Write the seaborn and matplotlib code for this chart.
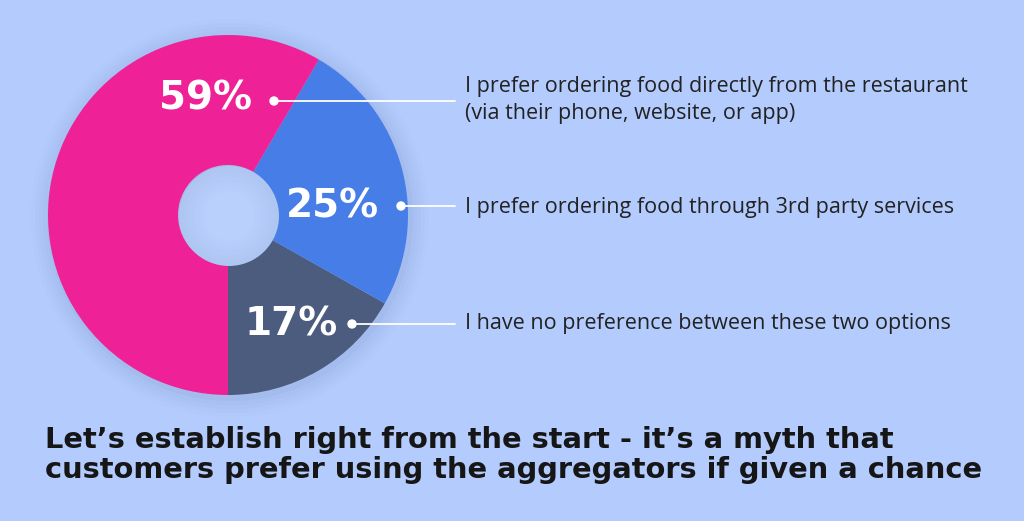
import matplotlib
matplotlib.use("Agg")
import matplotlib.pyplot as plt
import seaborn as sns
from matplotlib.patches import Circle

# ---- data ----
categories = [
    "I have no preference between these two options",
    "I prefer ordering food through 3rd party services",
    "I prefer ordering food directly from the restaurant\n(via their phone, website, or app)",
]
values = [17, 25, 59]
pct_labels = ["17%", "25%", "59%"]
title_lines = [
    "Let\u2019s establish right from the start - it\u2019s a myth that",
    "customers prefer using the aggregators if given a chance",
]

BG = "#B3CBFD"
colors = ["#4B5C7E", "#477DE6", "#EE2296"]

sns.set_theme(style="white")
plt.rcParams["font.family"] = ["DejaVu Sans"]

W, H = 1024, 521
fig = plt.figure(figsize=(W / 100, H / 100), dpi=100, facecolor=BG)
ax = fig.add_axes([0, 0, 1, 1])
ax.set_facecolor(BG)

def Y(y):
    return H - y

cx, cy, R, r_in = 228, Y(215), 180, 50

# soft shadow glow
for i, a in enumerate([0.03, 0.025, 0.02, 0.015, 0.01]):
    ax.add_patch(Circle((cx + 2, cy - 3), R + 3 + i * 4, color="#30457a", alpha=a, lw=0, zorder=1))

ax.pie(values, colors=colors, startangle=-90, counterclock=True,
       center=(cx, cy), radius=R, frame=True,
       wedgeprops=dict(width=R - r_in, linewidth=0, zorder=2))
ax.set_xlim(0, W)
ax.set_ylim(0, H)
ax.set_aspect("equal")
ax.axis("off")

# inner hole soft shading
shades = ["#AFC6F2", "#B1C8F5", "#B3CAF8", "#B5CCFA", "#B7CEFC", "#B9D0FD"]
for i, c in enumerate(shades):
    ax.add_patch(Circle((cx + 1, cy - 1), r_in - i * 5, color=c, lw=0, zorder=3))

# percentage labels with connector
pct_pos = [(245, 324), (286, 207), (159, 98)]
dots = [(352, 324), (401, 206), (274, 101)]
label_pos = [(465, 324), (465, 207), (465, 100)]
for pl, (tx, ty), (dx, dy), (lx, ly), cat in zip(pct_labels, pct_pos, dots, label_pos, categories):
    ax.text(tx, Y(ty), pl, color="white", fontsize=28, fontweight="heavy",
            ha="left", va="center", zorder=5, family=["DejaVu Sans"])
    ax.plot([dx, 455], [Y(dy), Y(dy)], color="white", lw=1.3, zorder=5)
    ax.add_patch(Circle((dx, Y(dy)), 4, color="white", zorder=6))
    ax.text(lx, Y(ly), cat, color="#222222", fontsize=15.5, ha="left", va="center",
            linespacing=1.38, zorder=5, family=["Open Sans", "DejaVu Sans"])

ax.text(45, Y(440), title_lines[0], color="#161616", fontsize=20.8, fontweight="heavy",
        ha="left", va="center", family=["DejaVu Sans"])
ax.text(45, Y(470), title_lines[1], color="#161616", fontsize=20.8, fontweight="heavy",
        ha="left", va="center", family=["DejaVu Sans"])

fig.savefig("out.png", dpi=100, facecolor=BG)
